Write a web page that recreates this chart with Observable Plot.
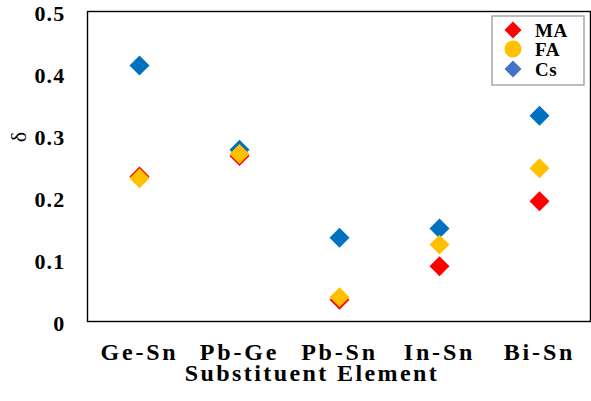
<!DOCTYPE html>
<html>
<head>
<meta charset="utf-8">
<script src="https://cdn.jsdelivr.net/npm/d3@7"></script>
<script src="https://cdn.jsdelivr.net/npm/@observablehq/plot@0.6"></script>
<style>
  html, body { margin: 0; padding: 0; background: #fff; }
  #chart { position: relative; width: 591px; height: 401px; }
</style>
</head>
<body>
<div id="chart"></div>
<script>
// Substituent pairs along the x axis
const categories = ["Ge-Sn", "Pb-Ge", "Pb-Sn", "In-Sn", "Bi-Sn"];

// δ values for each cation series
const maValues = [0.234, 0.267, 0.035, 0.089, 0.194];
const faValues = [0.231, 0.270, 0.039, 0.124, 0.247];
const csValues = [0.413, 0.277, 0.135, 0.150, 0.332];

// Y axis ticks and their labels
const yTicks = [0, 0.1, 0.2, 0.3, 0.4, 0.5];
const yTickLabels = ["0", "0.1", "0.2", "0.3", "0.4", "0.5"];

const seriesNames = ["MA", "FA", "Cs"];
const seriesColors = {MA: "#ff0000", FA: "#ffc000", Cs: "#0070c0"};
const legendColors = {MA: "#ff0000", FA: "#ffc000", Cs: "#4472c4"};

const serif = "'Liberation Serif', 'Times New Roman', serif";

const rows = (name, values) => categories.map((c, i) => ({series: name, category: c, value: values[i]}));
// drawing order: MA, then Cs, then FA on top
const data = [...rows("MA", maValues), ...rows("Cs", csValues), ...rows("FA", faValues)];

const plot = Plot.plot({
  width: 591,
  height: 401,
  marginLeft: 87,
  marginRight: 1,
  marginTop: 11,
  marginBottom: 80,
  style: {fontFamily: serif, background: "#fff", overflow: "visible"},
  x: {type: "point", domain: categories, padding: 0.5},
  y: {domain: [0, 0.5]},
  marks: [
    Plot.axisY({
      ticks: yTicks,
      tickFormat: d => yTickLabels[yTicks.indexOf(d)],
      tickSize: 0,
      tickPadding: 22,
      label: null,
      fontSize: 22,
      fontWeight: "bold",
      dy: 2,
      fill: "#000",
      className: "y-ticks"
    }),
    Plot.axisX({
      tickSize: 0,
      tickPadding: 21,
      label: null,
      fontSize: 24,
      fontWeight: "bold",
      fill: "#000",
      className: "x-ticks"
    }),
    Plot.dot(data, {
      x: "category",
      y: "value",
      symbol: "diamond2",
      r: 9,
      fill: d => seriesColors[d.series],
      stroke: "none"
    }),
    Plot.frame({stroke: "#000", strokeWidth: 1.4})
  ]
});

document.getElementById("chart").appendChild(plot);

const svg = d3.select(plot);

// Spaced-out tick lettering
svg.selectAll(".x-ticks text").attr("letter-spacing", "2.8px");
svg.selectAll(".y-ticks text").attr("letter-spacing", "1.2px");

// Axis titles
svg.append("text")
  .attr("x", 312)
  .attr("y", 381)
  .attr("text-anchor", "middle")
  .attr("font-family", serif)
  .attr("font-size", 24)
  .attr("font-weight", "bold")
  .attr("letter-spacing", "2.4px")
  .attr("fill", "#000")
  .text("Substituent Element");

svg.append("text")
  .attr("transform", "translate(21,137) rotate(-90)")
  .attr("text-anchor", "middle")
  .attr("dominant-baseline", "middle")
  .attr("font-family", serif)
  .attr("font-size", 22)
  .attr("fill", "#000")
  .text("δ");

// Legend box
const legend = svg.append("g");
legend.append("rect")
  .attr("x", 492).attr("y", 16)
  .attr("width", 92).attr("height", 69)
  .attr("fill", "#fff")
  .attr("stroke", "#a6a6a6")
  .attr("stroke-width", 1.5);

const legendY = [30, 49, 69];
seriesNames.forEach((name, i) => {
  const y = legendY[i];
  if (name === "FA") {
    legend.append("circle")
      .attr("cx", 513).attr("cy", y).attr("r", 8.5)
      .attr("fill", legendColors[name]);
  } else {
    legend.append("path")
      .attr("transform", `translate(513,${y})`)
      .attr("d", d3.symbol(d3.symbolDiamond2, 184)())
      .attr("fill", legendColors[name]);
  }
  legend.append("text")
    .attr("x", 535).attr("y", y + 6.5)
    .attr("text-anchor", "start")
    .attr("font-family", serif)
    .attr("font-size", 19)
    .attr("letter-spacing", "0.6px")
    .attr("font-weight", "bold")
    .attr("fill", "#000")
    .text(name);
});
</script>
</body>
</html>
